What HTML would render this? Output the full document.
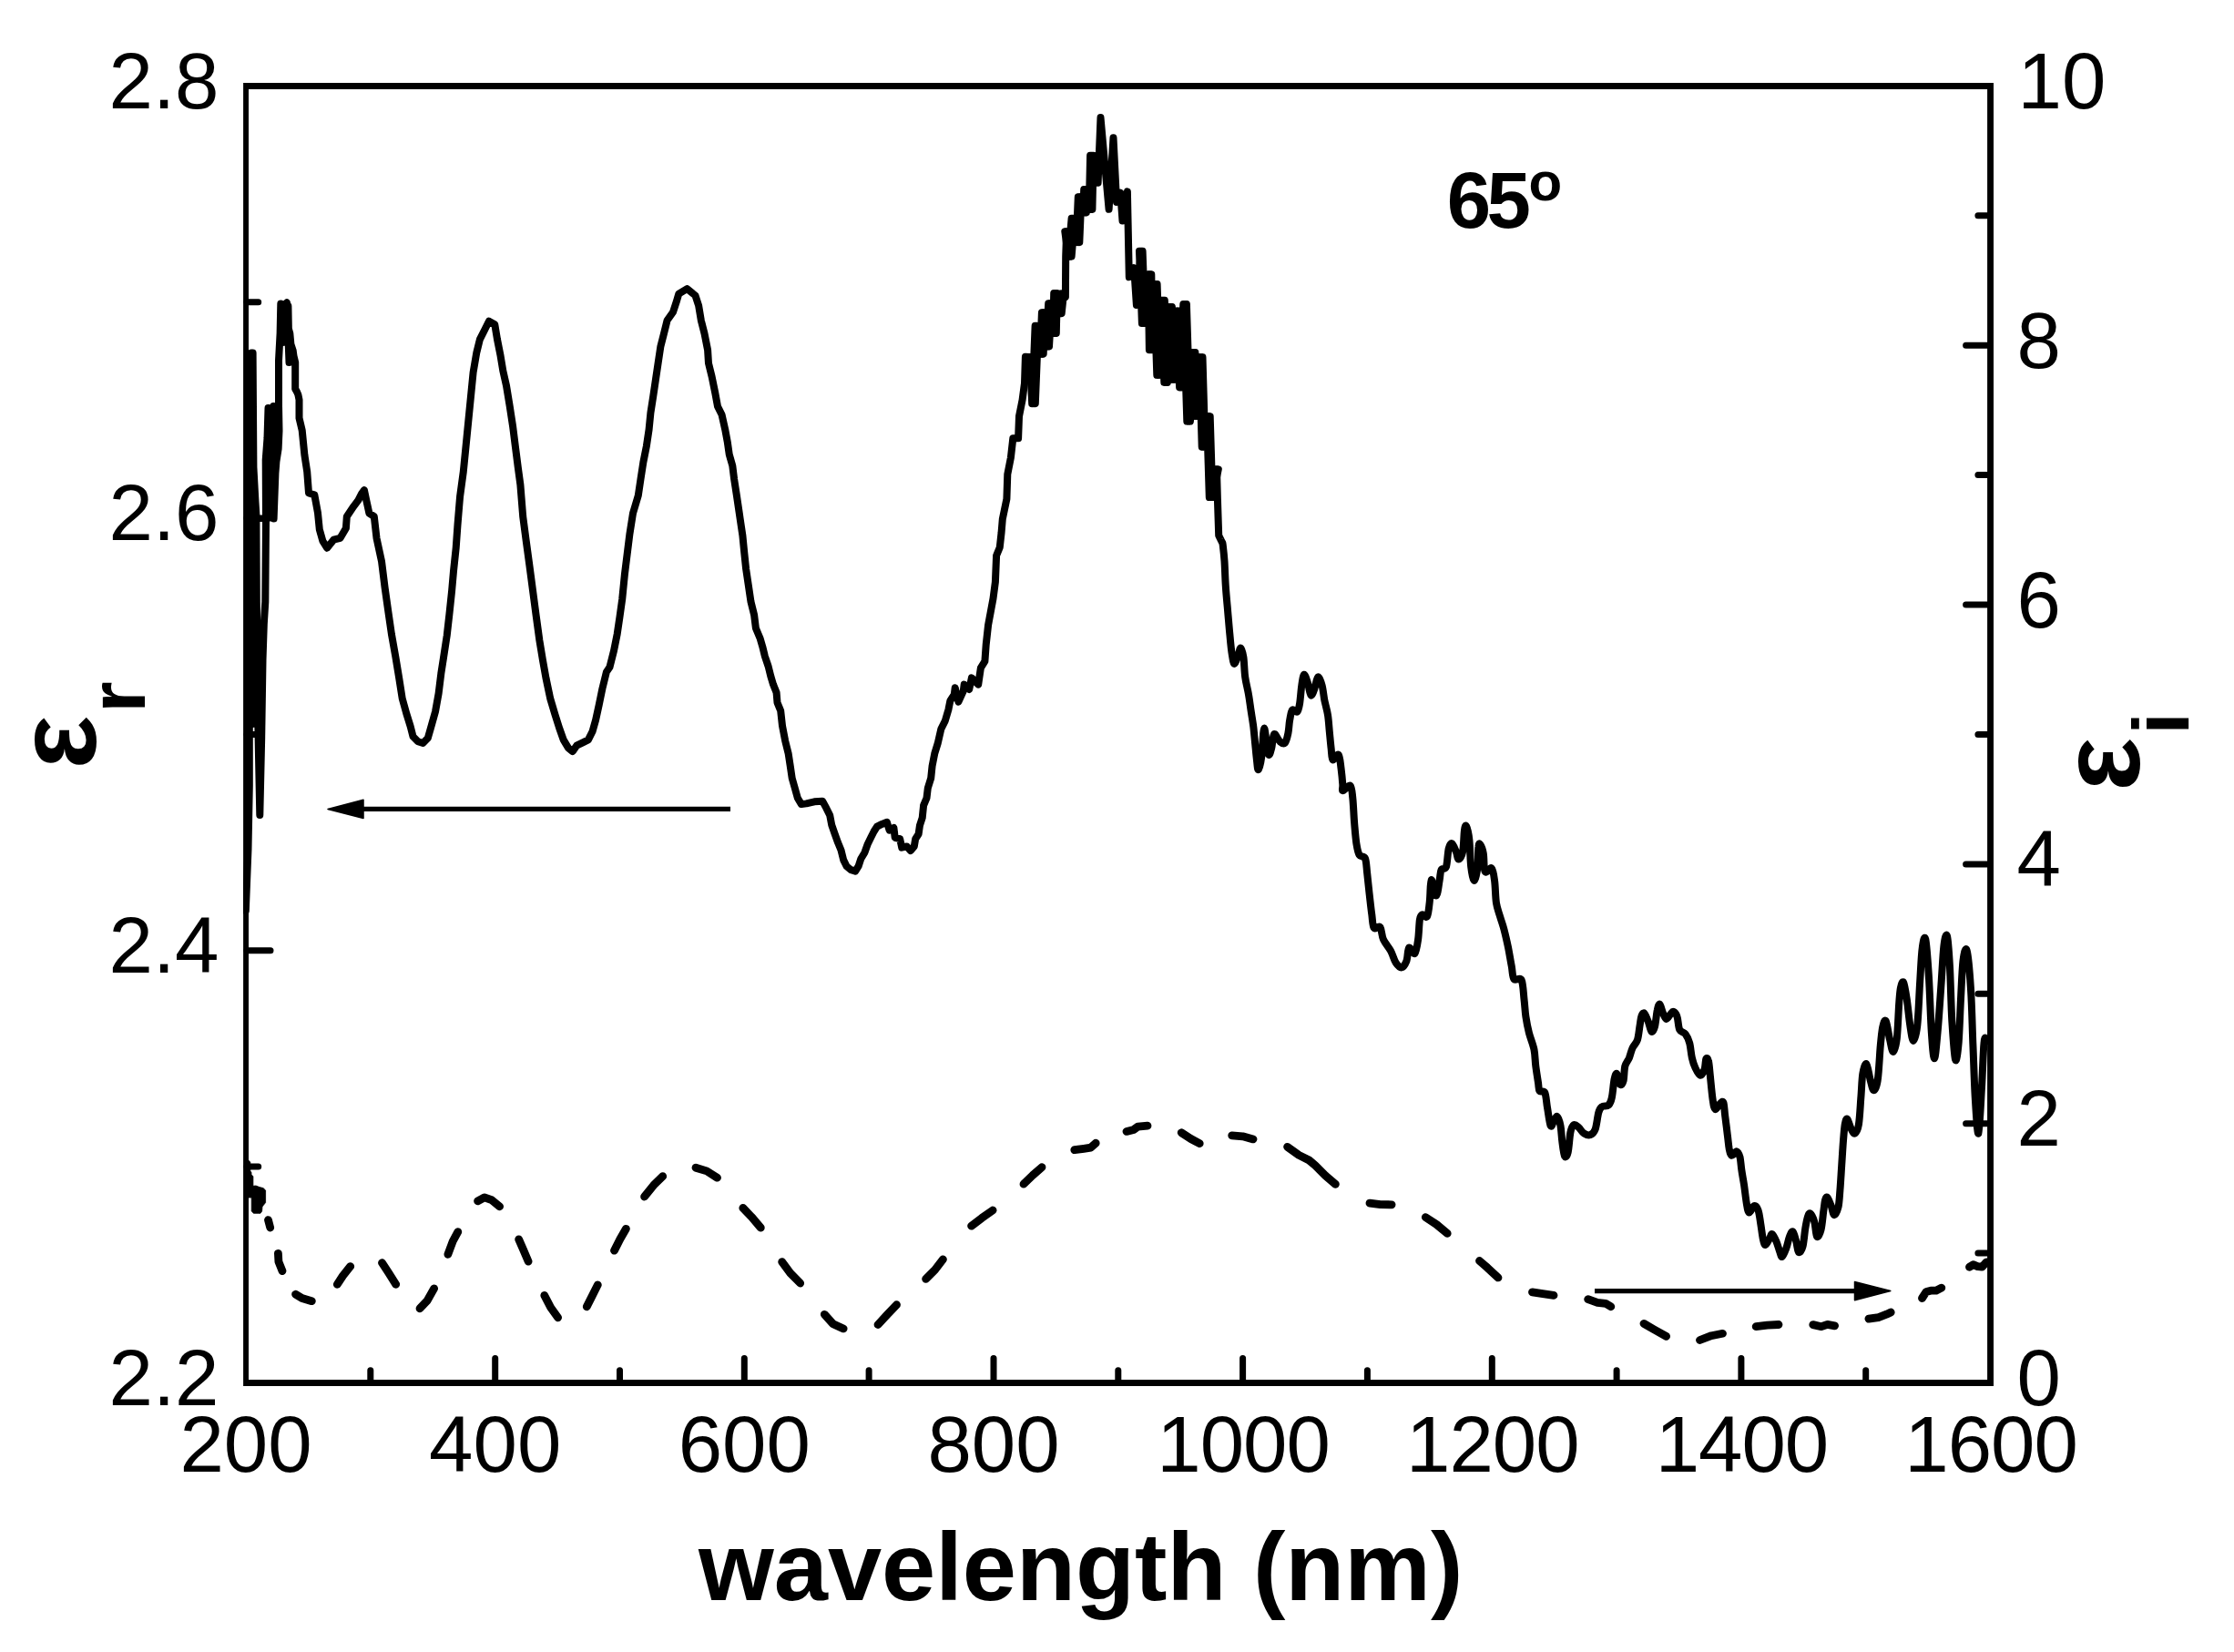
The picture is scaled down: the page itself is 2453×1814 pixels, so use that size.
<!DOCTYPE html>
<html lang="en"><head><meta charset="utf-8"><title>Dielectric function at 65 degrees</title>
<style>html,body{margin:0;padding:0;background:#fff}body{width:2453px;height:1814px;overflow:hidden}svg{display:block}text{font-family:"Liberation Sans",sans-serif;fill:#000}.t{font-size:87px}.b{font-weight:bold}</style></head><body>
<svg width="2453" height="1814" viewBox="0 0 2453 1814">
<rect x="0" y="0" width="2453" height="1814" fill="#fff"/>
<defs><clipPath id="plot"><rect x="267.1" y="91" width="1921.9" height="1430.9"/></clipPath></defs>
<path d="M267.1 91H2189V1521.9H267.1ZM273 97.9V1515H2182.1V97.9Z" fill="#000" fill-rule="evenodd"/>
<path d="M406.8 1517.5V1504.8M543.7 1517.5V1491.5M680.5 1517.5V1504.8M817.3 1517.5V1491.5M954.1 1517.5V1504.8M1091 1517.5V1491.5M1227.8 1517.5V1504.8M1364.6 1517.5V1491.5M1501.4 1517.5V1504.8M1638.3 1517.5V1491.5M1775.1 1517.5V1504.8M1911.9 1517.5V1491.5M2048.7 1517.5V1504.8M271 1281.1H283.7M271 1043.8H297M271 806.5H283.7M271 569.1H297M271 331.8H283.7M2184.6 1376.1H2171.9M2184.6 1233.7H2158.6M2184.6 1091.3H2171.9M2184.6 948.9H2158.6M2184.6 806.5H2171.9M2184.6 664H2158.6M2184.6 521.6H2171.9M2184.6 379.2H2158.6M2184.6 236.8H2171.9" fill="none" stroke="#000" stroke-width="7.0" stroke-linecap="round"/>
<text class="t" x="270" y="1616" text-anchor="middle">200</text>
<text class="t" x="543.7" y="1616" text-anchor="middle">400</text>
<text class="t" x="817.3" y="1616" text-anchor="middle">600</text>
<text class="t" x="1091" y="1616" text-anchor="middle">800</text>
<text class="t" x="1364.6" y="1616" text-anchor="middle" letter-spacing="-1" dx="0.5">1000</text>
<text class="t" x="1638.3" y="1616" text-anchor="middle" letter-spacing="-1" dx="0.5">1200</text>
<text class="t" x="1911.9" y="1616" text-anchor="middle" letter-spacing="-1" dx="0.5">1400</text>
<text class="t" x="2185.6" y="1616" text-anchor="middle" letter-spacing="-1" dx="0.5">1600</text>
<text class="t" x="240.5" y="1542.8" text-anchor="end">2.2</text>
<text class="t" x="240.5" y="1068.1" text-anchor="end">2.4</text>
<text class="t" x="240.5" y="593.4" text-anchor="end">2.6</text>
<text class="t" x="240.5" y="118.7" text-anchor="end">2.8</text>
<text class="t" x="2214.5" y="1543">0</text>
<text class="t" x="2214.5" y="1258.2">2</text>
<text class="t" x="2214.5" y="973.4">4</text>
<text class="t" x="2214.5" y="688.5">6</text>
<text class="t" x="2214.5" y="403.7">8</text>
<text class="t" x="2215.5" y="118.9">10</text>
<text class="b" x="767" y="1757.2" font-size="106.4">wavelength (nm)</text>
<text class="b" transform="translate(105 844.5) rotate(-90)" font-size="124">ε<tspan font-size="88" dx="3" dy="54">r</tspan></text>
<text class="b" transform="translate(2349 868.7) rotate(-90)" font-size="124">ε<tspan font-size="88" dx="3" dy="54">i</tspan></text>
<text class="b" x="1588.8" y="250" font-size="87" letter-spacing="-4.6">65<tspan font-size="60" dy="-30" dx="2" letter-spacing="0">o</tspan></text>
<path d="M802 888.4H395" fill="none" stroke="#000" stroke-width="5.2"/>
<path d="M360 888.4L399 878.2V898.6Z" fill="#000" stroke="#000" stroke-width="1.5" stroke-linejoin="round"/>
<path d="M1751 1417.6H2040" fill="none" stroke="#000" stroke-width="5.2"/>
<path d="M2075.8 1417.6L2036.5 1407.4V1427.8Z" fill="#000" stroke="#000" stroke-width="1.5" stroke-linejoin="round"/>
<g clip-path="url(#plot)">
<path d="M294.5 1339.6L296.7 1348M305.4 1376.3L305.9 1385.3L310 1395.6M324.6 1421.2L331.6 1425.6L342.3 1428.7M370.3 1410.3L376.4 1401L384.7 1390.6M419.5 1386.6L426.7 1397.6L434.7 1410.3M461 1436.8L469.3 1427.9L476.6 1414.9M491.9 1377.3L497.2 1363L502.8 1352.7M524.6 1318.8L531.9 1314.8L539.8 1317.7L548.6 1324.8M569.7 1360.9L574.5 1371.9L580.1 1385.1M597.8 1422.5L604.7 1435.7L612.6 1446.8M644.3 1434.8L650.6 1422.3L656.3 1410.9M674.5 1373.2L680.8 1360.7L687.4 1349.3M707.6 1314L717.7 1301.4L727.7 1291.6M764 1282.2L776 1285.9L787.5 1293.2M815.8 1326.4L825.2 1336.2L835.3 1348.2M858.7 1385.6L867.7 1397.8L878.7 1409M905.3 1443.3L914.7 1453.7L926.1 1458.9M964 1454.6L974 1443.7L984.5 1432.7M1016.6 1404.3L1026.6 1394.4L1035.4 1382.9M1066.6 1346.2L1078.1 1337.4L1090.1 1329M1124 1300.2L1134.1 1290.4L1144 1281.7M1179.8 1262.7L1190 1261.3L1197.8 1260.1L1203.2 1255.2M1237 1242.4L1244.9 1240.4L1249.4 1237.1L1260 1236.1M1297.2 1243.7L1307.6 1250.5L1317.2 1255.6M1352.7 1246.8L1364.6 1247.8L1376 1250.9M1413.6 1259.4L1426.2 1268.4L1437.4 1274L1444.1 1279.6L1455.3 1290.8L1466.4 1300.3M1504 1321.1L1515.7 1322.6L1528.1 1322.8M1565.3 1336.6L1577.3 1344.5L1589.2 1354.4M1624.5 1384.5L1633.1 1391.9L1645 1402.9M1682.5 1418.9L1694 1420.6L1706 1422.3M1743.7 1426.7L1754 1430.4L1763 1431.3L1768.8 1434.8M1805 1453.4L1816.4 1460L1829.6 1467.4M1866.5 1471.5L1879.1 1466.7L1891.5 1464.3M1928.2 1456.6L1940.6 1455.1L1953 1454.5M1990.8 1454.6L1999.9 1456.7L2006.6 1454.4L2014.6 1455.8M2051.9 1448.2L2062.6 1446.6L2071.5 1443.2L2076.2 1441M2110.5 1425.5L2115.1 1418.4L2120 1417.2L2126 1417.2L2131.8 1414.1M2162.5 1391.3L2166.6 1388.7L2171.4 1390.6L2176.3 1391.2L2181.3 1385.8" fill="none" stroke="#000" stroke-width="8.8" stroke-linecap="round" stroke-linejoin="round"/>
<path d="M272.5 1273.8L274.8 1276V1286L276 1287.2V1290L277.9 1291.6V1302.3L281 1302L285 1303.6L289 1304.6L291.6 1307V1320.5L288 1325L287.6 1330L286 1332.3H278.5L276.2 1330V1315H272.5Z" fill="#000" stroke="#000" stroke-width="0.8" stroke-linejoin="round"/>
<path d="M284 569.5H289" fill="none" stroke="#000" stroke-width="7"/>
<path d="M269.8 1000L272.5 932L273.8 863L273.8 797L276 387.5L277.5 795L277.6 387.5L278.4 513L280.4 550L281.4 566L281.8 661L283.3 795L285.3 895L287.2 810L288.5 725L289.8 685L291.3 661L292 573L291.7 505L293.5 481L294.5 448L296 568L297.3 448L298.8 566L300.3 446L300.6 569.5L302.4 520L303.4 507L305.6 493L306.5 473L306 445L306 396L307.6 366L308.3 333.5L310.5 376L313 334L315 332.3L317.5 398L316.4 336L316.6 360L318.3 366L319.4 378L321.7 385L322.5 391L324.2 398L324.2 427L325.9 430L327.4 433.5L328.5 439L328.5 459L331.7 472.5L334.4 499.7L337.2 517.9L339 541.5L345.3 543.3L349 563.3L350.8 581.4L354.4 594.1L359.1 601.7L366.3 592.7L373.6 590.8L379.9 579.9L380.8 567.2L388.1 556.3L393.5 549.1L397.2 541.8L399.9 538.2L402.6 550.9L405.4 563.6L410.8 567.2L413.5 590.8L419 616.3L422.6 645.3L426.2 670.7L429.9 696.2L434.4 721.6L438 743.4L441.7 767L446.2 783.3L450.7 797.8L453.5 808.7L458.9 814.2L464.4 816L469.8 810.5L473.4 797.8L478 781.5L481.6 761.5L484.3 739.7L487.1 721.6L490.7 698L493.4 674.4L496.1 648.9L498 627.2L500.7 601.7L502.5 576.3L504.3 554.5L505.1 545.1L508.8 517.9L511.5 490.6L514.2 463.4L516.9 436.2L519.6 408.9L523.3 387.2L526.9 372.6L532.4 361.7L536.9 352.7L543.3 356.3L546 372.6L549.6 390.8L552.3 407.1L556 423.5L559.6 445.3L563.2 468.9L565.9 490.6L568.7 512.4L571.4 532.4L574.2 567.2L577.8 594.5L581.5 621.7L585.1 648.9L588.7 676.2L592.4 703.4L596 725.2L599.6 745.2L604.2 767L609.6 785.1L614.2 799.6L618.7 812.4L624.1 821.4L628.7 825.1L633.2 818.7L640.5 815.1L645.9 812.4L650.5 803.3L654.1 790.6L657.7 774.2L661.4 756.1L665.9 737.9L669.5 732.5L674.1 714.3L677.7 696.2L680.4 678L683.2 658L685.9 630.8L688.6 609L691.3 587.2L695 563.6L700.8 544.2L703.5 526L706.3 507.9L709.9 489.7L712.6 471.6L714.4 453.4L717.2 435.3L719.9 417.1L722.6 398.9L725.3 380.8L729 366.3L732.6 351.7L739 342.7L742.6 331.8L745.3 322.7L754.4 317.2L763.5 324.5L767.1 335.4L769.8 351.7L773.5 366.3L777.1 384.4L778 398.9L781.6 413.5L785.3 431.6L788 446.2L792.5 455.2L796.2 471.6L798.9 486.1L800.7 498.8L804.3 511.5L806.1 526L808.9 544.2L811.6 562.4L812.7 570L815.4 588.2L817.2 606.3L819.1 624.5L821.8 642.6L824.5 660.8L828.1 675.3L829.9 689.8L834.5 700.7L837.2 709.8L839.9 720.7L843.6 731.6L846.3 742.5L849 751.6L852.6 760.6L853.5 771.5L857.2 780.6L859 797L862.2 813.6L865.6 827.2L867.7 840.9L869.7 854.5L872.4 864L875.8 876.3L879.9 883.1L885.4 882.4L894.2 880.3L903.1 879.7L907.2 887.2L911.2 895.3L913.3 906.2L916.7 915.8L920.1 925.3L923.5 933.5L926.2 944.4L929.6 951.2L934.4 955.2L939.2 956.6L942.6 951.2L945.3 943L949.4 936.2L952.8 926.7L956.2 919.8L959.6 913L963 907.6L968.4 904.9L973.9 902.8L976.6 911.7L981.4 908.9L982.7 919.8L988.2 921.2L990.2 930.7L995.7 929.4L999.8 934.1L1003.8 929.4L1005.2 921.2L1008.6 915.8L1010 906.2L1012.7 898.1L1014.1 884.4L1017.5 876.3L1018.8 865.4L1022.2 854.5L1023.6 840.9L1026.3 827.2L1029.7 816.3L1033.3 800.6L1037.8 791.5L1041.5 778.8L1043.3 769.7L1047.8 762.5L1048.7 755.2L1052.4 770.6L1057.8 758.8L1058.7 751.6L1064.2 757L1066.9 744.3L1074.2 751.6L1076.9 733.4L1081.4 726.2L1082.7 708L1085.1 686.2L1087.8 671.7L1090.5 657.2L1092.9 639L1094.1 609.9L1097.8 600.9L1099.6 584.5L1100.8 570L1105.4 547.9L1106.3 520.7L1109.9 502.5L1112.3 481.3L1118.1 481.3L1119 457.1L1122.6 439L1125 420.8L1125.9 391.8L1132.6 392.3L1135 443.2L1138.4 357.8L1143.9 388.7L1145.7 343.3L1150.2 380.5L1153 333.3L1158 366L1159 321.9L1162.6 324.2L1163.9 344.2L1166.2 322.4L1169.9 326.1L1170.2 281.6L1171.1 254.3L1174.8 281.6L1178.4 239.8L1183.5 266.1L1185.6 216.2L1191.1 233.5L1192 208L1197.6 229.8L1198.9 170.8L1205.6 200.8L1208.5 129.1L1217.6 229.8L1222.5 151.2L1226.1 222L1230.3 211.7L1232.5 242.5L1237.9 210.4L1239.8 304.3L1245.2 294.3L1247.9 335.1L1252.8 275.8L1255.7 355.1L1262.5 301.2L1263.7 384.2L1268.8 312.1L1272.1 411.8L1277 329.7L1280.1 419.9L1285.1 336.9L1288.4 416.8L1292.4 341.5L1296.9 425.4L1301.1 333.9L1305.1 462.6L1310.6 386.9L1313.3 457.1L1318.7 392.3L1321.5 490.7L1326.9 457.1L1329.6 546.1L1336 515.3L1336.9 547.9L1338.2 587.9L1342 595.7C1342.1 596.1 1342.3 594.7 1342.7 598.2C1343.1 601.6 1344 608.7 1344.5 616.3C1345 623.9 1345.2 634.5 1345.8 643.5C1346.4 652.6 1347.3 661.7 1348.1 670.8C1348.9 679.9 1349.7 690.2 1350.5 698C1351.2 705.9 1351.8 712.8 1352.7 718C1353.5 723.1 1354.2 728.9 1355.4 728.9C1356.6 728.9 1358.8 720.9 1359.9 718C1361.1 715.1 1361.4 711 1362.3 711.6C1363.2 712.2 1364.5 716.3 1365.4 721.6C1366.2 726.9 1366.3 736.8 1367.2 743.4C1368.1 750.1 1369.8 755.5 1370.8 761.6C1371.9 767.6 1372.6 773.7 1373.5 779.7C1374.4 785.8 1375.5 791.8 1376.3 797.9C1377 803.9 1377.5 810 1378.1 816C1378.7 822.1 1379.3 829.4 1379.9 834.2C1380.5 839 1380.8 845.7 1381.7 845.1C1382.6 844.5 1384.3 838.1 1385.3 830.6C1386.4 823 1386.9 800.2 1388.1 799.7C1389.3 799.2 1391.2 824.2 1392.6 827.8C1394 831.5 1395.2 825.1 1396.2 821.5C1397.3 817.9 1397.4 807.3 1399 806.1C1400.5 804.8 1403.3 812.6 1405.3 814.2C1407.3 815.9 1409.2 817.6 1410.8 816C1412.3 814.5 1413.5 809.4 1414.4 805.1C1415.3 800.9 1415.4 794.9 1416.2 790.6C1417 786.4 1417.6 781.2 1418.9 779.7C1420.3 778.2 1423 782.8 1424.4 781.5C1425.7 780.3 1426.3 777.3 1427.1 772.5C1427.9 767.6 1428.5 757.8 1429.3 752.5C1430.1 747.2 1430.9 741 1432 740.7C1433.2 740.4 1434.9 746.9 1436.2 750.7C1437.4 754.5 1438.2 762.5 1439.4 763.4C1440.7 764.3 1442.2 759.5 1443.4 756.1C1444.7 752.8 1445.7 744 1447.1 743.4C1448.4 742.8 1450.4 748.3 1451.6 752.5C1452.8 756.7 1453.3 763.4 1454.3 768.8C1455.4 774.3 1457.1 779.4 1458 785.2C1458.9 790.9 1459.2 797.3 1459.8 803.3C1460.4 809.4 1461 816.3 1461.6 821.5C1462.2 826.6 1462.1 833 1463.4 834.2C1464.8 835.4 1468.3 827.2 1469.8 828.8C1471.3 830.3 1471.7 837.8 1472.5 843.3C1473.2 848.7 1474 857.3 1474.3 861.4C1474.6 865.6 1473.1 867.9 1474.5 868.2C1475.9 868.4 1480.9 861.2 1482.7 862.7C1484.5 864.2 1484.6 870.3 1485.4 877.2C1486.1 884.2 1486.5 896.3 1487.2 904.5C1487.9 912.6 1488.5 920.5 1489.4 926.3C1490.3 932 1491.1 936.2 1492.7 939C1494.3 941.7 1497.6 939.3 1499 942.6C1500.4 945.9 1500.4 952.6 1501.2 958.9C1501.9 965.3 1502.7 973.2 1503.5 980.7C1504.4 988.3 1505.4 998 1506.3 1004.3C1507.1 1010.7 1507.1 1016.6 1508.6 1018.9C1510.1 1021.1 1513.6 1015.8 1515.4 1018C1517.1 1020.1 1517 1027.2 1519 1031.6C1521 1036 1524.9 1040 1527.2 1044.3C1529.4 1048.5 1530.6 1054 1532.6 1057C1534.6 1060 1537 1062.7 1539 1062.4C1540.9 1062.1 1543 1058.8 1544.4 1055.2C1545.8 1051.5 1545.6 1042 1547.1 1040.6C1548.6 1039.3 1551.8 1048.5 1553.5 1047C1555.1 1045.5 1556.2 1037.8 1557.1 1031.6C1558 1025.4 1558.2 1014.3 1558.9 1009.8C1559.7 1005.2 1560.3 1004.9 1561.7 1004.3C1563 1003.7 1565.7 1008.6 1567.1 1006.2C1568.5 1003.7 1569.1 996.5 1569.8 989.8C1570.6 983.2 1570.4 967.3 1571.6 966.2C1572.8 965.1 1575.6 983.5 1577.1 983.5C1578.6 983.5 1579.8 970.9 1580.7 966.2C1581.6 961.5 1581.3 957.7 1582.5 955.3C1583.7 952.9 1586.6 955.6 1588 951.7C1589.3 947.7 1589.6 935.9 1590.7 931.7C1591.8 927.5 1593 925.7 1594.3 926.3C1595.7 926.9 1597.7 932.5 1598.9 935.3C1600.1 938.2 1600.4 943.5 1601.6 943.5C1602.8 943.5 1605.1 940.6 1606.1 935.3C1607.2 930 1607.3 916.4 1608 911.7C1608.6 907 1609.2 905.4 1610.1 907.2C1611 909 1612.6 915.2 1613.4 922.6C1614.2 930 1614.3 944.3 1615.2 951.7C1616.1 959.1 1617.6 967.1 1618.8 967.1C1620.1 967.1 1621.7 957.9 1622.5 951.7C1623.2 945.5 1622.9 934 1623.4 929.9C1623.8 925.8 1624.3 926 1625.2 927.2C1626.1 928.4 1627.9 932.2 1628.8 937.2C1629.7 942.1 1629.1 954.4 1630.6 957.1C1632.2 959.9 1636.2 951.7 1637.9 953.5C1639.7 955.3 1640.3 961.7 1641.2 968C1642 974.4 1642 985.3 1643 991.6C1644 998 1645.6 1001.3 1647 1006.2C1648.4 1011 1650 1014.9 1651.5 1020.7C1653 1026.4 1654.7 1034 1656.1 1040.6C1657.4 1047.3 1658.6 1054.9 1659.7 1060.6C1660.8 1066.4 1660.6 1072.6 1662.4 1075.1C1664.2 1077.7 1668.7 1072.2 1670.6 1076.1C1672.5 1079.9 1672.8 1091.4 1673.6 1098.2C1674.4 1104.9 1674.5 1110.3 1675.4 1116.3C1676.3 1122.4 1677.5 1128.4 1679 1134.5C1680.6 1140.5 1683.3 1146.6 1684.5 1152.6C1685.7 1158.7 1685.5 1164.7 1686.3 1170.8C1687.1 1176.8 1688.3 1184.4 1689 1188.9C1689.7 1193.5 1689.3 1196.2 1690.5 1198C1691.7 1199.8 1694.9 1196.8 1696.3 1199.8C1697.7 1202.9 1698 1210.1 1699 1216.2C1700.1 1222.2 1701.4 1233.7 1702.6 1236.2C1703.9 1238.6 1705.1 1232.4 1706.3 1230.7C1707.5 1229 1708.7 1225.3 1709.9 1226.2C1711.1 1227.1 1712.6 1231.5 1713.5 1236.2C1714.4 1240.8 1714.6 1248.7 1715.4 1254.3C1716.1 1259.9 1717 1267.9 1718.1 1269.7C1719.1 1271.6 1720.6 1269.6 1721.7 1265.2C1722.8 1260.8 1723.4 1248.4 1724.4 1243.4C1725.5 1238.4 1726.5 1236.2 1728.1 1235.2C1729.6 1234.3 1731.7 1236.5 1733.5 1238C1735.3 1239.5 1736.8 1243 1739 1244.3C1741.1 1245.7 1744.1 1246.9 1746.2 1246.1C1748.3 1245.4 1750.2 1243.9 1751.7 1239.8C1753.2 1235.7 1754.1 1225.7 1755.3 1221.6C1756.5 1217.5 1757.1 1216.6 1758.9 1215.3C1760.7 1213.9 1764.4 1215.1 1766.2 1213.5C1768 1211.8 1768.8 1210 1769.8 1205.3C1770.9 1200.6 1771.6 1189.7 1772.5 1185.3C1773.5 1180.9 1774.2 1178 1775.3 1179C1776.3 1179.9 1777.7 1189.4 1778.9 1190.8C1780.1 1192.1 1781.6 1190.5 1782.5 1187.1C1783.4 1183.8 1783.3 1175 1784.3 1170.8C1785.4 1166.5 1787.5 1165 1788.9 1161.7C1790.2 1158.4 1791 1154.1 1792.5 1150.8C1794 1147.5 1796.6 1146 1798 1141.7C1799.3 1137.5 1799.9 1129.8 1800.7 1125.4C1801.4 1121 1801.7 1117.5 1802.5 1115.4C1803.3 1113.3 1804.4 1111.6 1805.6 1112.7C1806.8 1113.7 1808.5 1118.4 1809.8 1121.8C1811.1 1125.1 1812.2 1131.7 1813.4 1132.7C1814.6 1133.6 1816 1131.1 1817 1127.2C1818.1 1123.3 1818.8 1113.1 1819.8 1109.1C1820.7 1105 1821.4 1102.1 1822.5 1102.7C1823.5 1103.3 1824.9 1110 1826.1 1112.7C1827.3 1115.4 1828.4 1118.9 1829.7 1119C1831.1 1119.2 1833 1115 1834.3 1113.6C1835.6 1112.2 1836.3 1110.4 1837.5 1110.9C1838.8 1111.3 1840.4 1113 1841.5 1116.3C1842.7 1119.6 1842.8 1127.7 1844.3 1130.8C1845.8 1134 1848.8 1133 1850.6 1135.4C1852.4 1137.8 1854 1141 1855.2 1145.4C1856.4 1149.8 1856.8 1157.2 1857.9 1161.7C1858.9 1166.2 1860 1169.4 1861.5 1172.6C1863 1175.8 1865.3 1180.5 1867 1180.8C1868.6 1181.1 1870.4 1177.4 1871.5 1174.4C1872.6 1171.4 1872.6 1164.1 1873.3 1162.6C1874.1 1161.1 1875.3 1162.2 1876 1165.3C1876.8 1168.5 1877.1 1174.7 1877.9 1181.7C1878.6 1188.6 1879.7 1201 1880.6 1207.1C1881.5 1213.2 1881.9 1217.2 1883.3 1218C1884.7 1218.8 1887.2 1212.8 1888.8 1211.6C1890.3 1210.4 1891.5 1208.5 1892.4 1210.7C1893.3 1213 1893.4 1219.2 1894.2 1225.3C1895 1231.3 1896.2 1241 1896.9 1247C1897.7 1253.1 1898 1257.9 1898.7 1261.6C1899.5 1265.2 1900.1 1268.4 1901.5 1268.8C1902.8 1269.3 1905.4 1264 1906.9 1264.3C1908.4 1264.6 1909.6 1267.2 1910.5 1270.6C1911.4 1274.1 1911.6 1280 1912.4 1285.2C1913.1 1290.3 1914.2 1295.5 1915.1 1301.5C1916 1307.6 1916.9 1316.5 1917.8 1321.5C1918.7 1326.5 1919.2 1331 1920.5 1331.5C1921.9 1331.9 1924.3 1324.7 1926 1324.2C1927.6 1323.8 1929.3 1325.6 1930.5 1328.8C1931.7 1331.9 1932.3 1337.8 1933.2 1343.3C1934.1 1348.7 1935.1 1357.5 1936 1361.4C1936.9 1365.4 1937.5 1367.2 1938.7 1366.9C1939.9 1366.6 1942 1361.6 1943.2 1359.6C1944.4 1357.7 1944.7 1354.5 1945.9 1355.1C1947.2 1355.7 1949.1 1360.1 1950.5 1363.3C1951.8 1366.4 1953.1 1371.4 1954.1 1374.1C1955.2 1376.9 1955.6 1380.6 1956.8 1380C1958.1 1379.3 1960 1374.2 1961.4 1370.5C1962.7 1366.8 1963.8 1360.8 1965 1357.8C1966.2 1354.8 1967.4 1351.4 1968.6 1352.4C1969.9 1353.3 1971.2 1359.5 1972.3 1363.3C1973.3 1367 1973.8 1374.1 1975 1375.1C1976.2 1376 1978.3 1373.1 1979.5 1368.7C1980.7 1364.3 1981.4 1354.2 1982.3 1348.7C1983.2 1343.3 1984.1 1338.7 1985 1336C1985.9 1333.3 1986.5 1331.5 1987.7 1332.4C1988.9 1333.3 1991 1337.2 1992.2 1341.5C1993.5 1345.7 1993.8 1356.3 1995 1357.8C1996.2 1359.3 1998.3 1355.1 1999.5 1350.5C2000.7 1346 2001.5 1336 2002.2 1330.6C2003 1325.1 2003.4 1320.5 2004 1317.9C2004.7 1315.2 2005.4 1313.9 2006.4 1314.8C2007.5 1315.7 2009.1 1320.1 2010.4 1323.3C2011.7 1326.5 2012.7 1333.9 2014 1334.2C2015.4 1334.5 2017.5 1329.7 2018.6 1325.1C2019.6 1320.6 2019.8 1314.5 2020.4 1307C2021 1299.4 2021.6 1288.8 2022.2 1279.7C2022.8 1270.6 2023.4 1260.1 2024 1252.5C2024.6 1244.9 2025.1 1238.3 2025.8 1234.3C2026.6 1230.4 2027.2 1227.9 2028.3 1228.8C2029.5 1229.7 2031.3 1237.1 2032.7 1239.7C2034.1 1242.3 2035.4 1245.4 2036.8 1244.6C2038.2 1243.7 2039.8 1241.3 2040.9 1234.9C2042 1228.4 2042.6 1215.1 2043.3 1205.8C2044.1 1196.5 2044.3 1185.4 2045.3 1179.2C2046.3 1172.9 2048 1167.1 2049.4 1168.3C2050.8 1169.5 2052.4 1181.6 2053.8 1186.4C2055.1 1191.3 2056.1 1197.3 2057.4 1197.3C2058.7 1197.3 2060.5 1194.3 2061.7 1186.4C2063 1178.6 2063.8 1159.8 2064.6 1150.1C2065.5 1140.4 2066.1 1133.2 2067.1 1128.3C2068.1 1123.5 2069.4 1119 2070.7 1121.1C2072 1123.1 2073.5 1134.8 2074.8 1140.4C2076.2 1146.1 2077.4 1155 2078.7 1155C2080 1155 2081.7 1149.3 2082.8 1140.4C2083.9 1131.6 2084.5 1111 2085.2 1101.7C2085.9 1092.4 2086.1 1088.6 2086.9 1084.7C2087.7 1080.9 2088.9 1076.7 2090.1 1078.7C2091.2 1080.7 2092.5 1089 2093.7 1096.9C2094.9 1104.7 2096.1 1118.2 2097.3 1125.9C2098.5 1133.6 2099.6 1142.9 2101 1142.9C2102.3 1142.9 2104.1 1136.8 2105.3 1125.9C2106.5 1115 2107.3 1091.6 2108.2 1077.5C2109.1 1063.4 2109.6 1048.8 2110.7 1041.2C2111.7 1033.5 2113.1 1026.2 2114.3 1031.5C2115.5 1036.7 2116.8 1055.7 2117.9 1072.6C2119 1089.6 2119.8 1118.2 2120.8 1133.2C2121.8 1148.1 2122.8 1162.2 2124 1162.2C2125.1 1162.2 2126.4 1146.1 2127.6 1133.2C2128.8 1120.3 2130.1 1100.5 2131.2 1084.7C2132.4 1069 2133.3 1048.2 2134.4 1038.7C2135.5 1029.3 2136.9 1024.2 2138 1027.8C2139.1 1031.5 2140 1045 2140.9 1060.5C2141.8 1076.1 2142.3 1103.9 2143.3 1121.1C2144.4 1138.2 2145.8 1159.4 2147 1163.4C2148.2 1167.5 2149.6 1156.4 2150.6 1145.3C2151.6 1134.2 2152.2 1111.8 2153 1096.9C2153.8 1081.9 2154.4 1064.6 2155.4 1055.7C2156.5 1046.8 2158.2 1038.7 2159.6 1043.6C2161 1048.4 2162.8 1067.8 2163.9 1084.7C2165.1 1101.7 2165.5 1125.1 2166.3 1145.3C2167.2 1165.5 2167.8 1189.3 2168.8 1205.8C2169.8 1222.4 2171.2 1246.6 2172.4 1244.6C2173.6 1242.5 2175 1210.3 2176 1193.7C2177 1177.2 2177.6 1154.2 2178.5 1145.3C2179.3 1136.4 2180.1 1140.8 2180.9 1140.4C2181.7 1140 2182.9 1142.5 2183.3 1142.9" fill="none" stroke="#000" stroke-width="8" stroke-linecap="round" stroke-linejoin="round"/>
<path d="M1130.8 392.3L1133.2 443.2L1136.6 357.8L1142.1 388.7L1143.9 343.3L1148.4 380.5L1151.2 333.3L1156.2 366L1157.2 321.9L1160.8 324.2L1162.1 344.2L1164.4 322.4M1134.4 392.3L1136.8 443.2L1140.2 357.8L1145.7 388.7L1147.5 343.3L1152 380.5L1154.8 333.3L1159.8 366L1160.8 321.9L1164.4 324.2L1165.7 344.2L1168 322.4M1169.3 254.3L1173 281.6L1176.6 239.8L1181.7 266.1L1183.8 216.2L1189.3 233.5L1190.2 208L1195.8 229.8L1197.1 170.8M1172.9 254.3L1176.6 281.6L1180.2 239.8L1185.3 266.1L1187.4 216.2L1192.9 233.5L1193.8 208L1199.4 229.8L1200.7 170.8M1251 275.8L1253.9 355.1L1260.7 301.2L1261.9 384.2L1267 312.1L1270.3 411.8L1275.2 329.7L1278.3 419.9L1283.3 336.9L1286.6 416.8L1290.6 341.5L1295.1 425.4L1299.3 333.9L1303.3 462.6L1308.8 386.9L1311.5 457.1L1316.9 392.3L1319.7 490.7L1325.1 457.1L1327.8 546.1L1334.2 515.3M1254.6 275.8L1257.5 355.1L1264.3 301.2L1265.5 384.2L1270.6 312.1L1273.9 411.8L1278.8 329.7L1281.9 419.9L1286.9 336.9L1290.2 416.8L1294.2 341.5L1298.7 425.4L1302.9 333.9L1306.9 462.6L1312.4 386.9L1315.1 457.1L1320.5 392.3L1323.3 490.7L1328.7 457.1L1331.4 546.1L1337.8 515.3" fill="none" stroke="#000" stroke-width="8" stroke-linecap="round" stroke-linejoin="round"/>
</g>
</svg></body></html>
